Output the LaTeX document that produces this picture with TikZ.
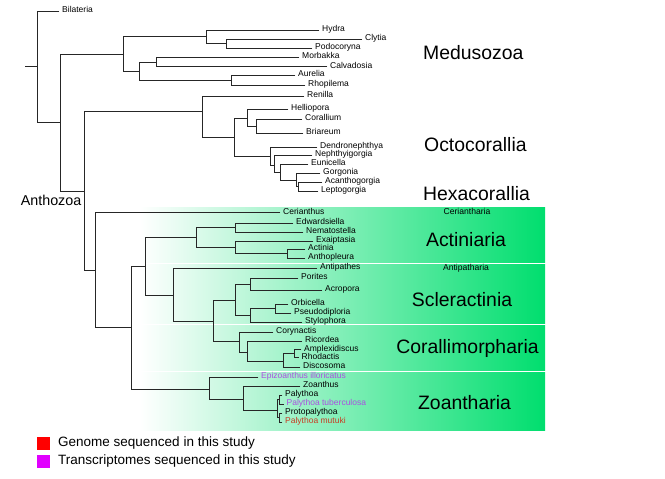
\documentclass[tikz,border=0pt]{standalone}
\usepackage{fontspec}
\setmainfont{Liberation Sans}
\definecolor{hexgreen}{RGB}{0,222,110}
\definecolor{purplelab}{RGB}{170,80,225}
\definecolor{mutred}{RGB}{200,60,35}
\definecolor{legred}{RGB}{255,0,0}
\definecolor{legmag}{RGB}{225,0,255}
\begin{document}
\begin{tikzpicture}[x=1pt,y=-1pt,
  br/.style={line width=0.9pt, draw=black!85, line cap=rect},
  leaf/.style={anchor=west, inner xsep=3pt, inner ysep=0pt, text height=5.6pt, text depth=2pt, font=\fontsize{8.5}{10}\selectfont},
  big/.style={font=\fontsize{19.4}{22}\selectfont, inner sep=0pt},
  small/.style={font=\fontsize{8.6}{10}\selectfont, inner sep=0pt},
  band/.style={left color=white, right color=hexgreen, draw=none},
  legtext/.style={anchor=west, inner sep=0pt, font=\fontsize{13.5}{16}\selectfont}
  ]
\useasboundingbox (0,0) rectangle (665,479);
% green bands
\shade[band] (140,207) rectangle (545,216);
\shade[band] (140,217.5) rectangle (545,262.5);
\shade[band] (140,264) rectangle (545,272);
\shade[band] (140,273.5) rectangle (545,323.5);
\shade[band] (140,325) rectangle (545,370.5);
\shade[band] (140,372) rectangle (545,430);
% internal nodes
\coordinate (stub) at (25,66.7);
\coordinate (R) at (37,66.7);
\coordinate (C) at (60,122);
\coordinate (M) at (123,54);
\coordinate (H1) at (206,36.5);
\coordinate (HC) at (226,43.5);
\coordinate (H2) at (139,71);
\coordinate (MC) at (156,62);
\coordinate (AR) at (231,80);
\coordinate (A) at (84,191);
\coordinate (O) at (202,111);
\coordinate (O2) at (234,137);
\coordinate (HG) at (247,118);
\coordinate (CB) at (256,126);
\coordinate (DG) at (270,156);
\coordinate (D2) at (274,165);
\coordinate (D3) at (280,172);
\coordinate (D4) at (296,180);
\coordinate (D5) at (298,186.5);
\coordinate (X) at (95,270);
\coordinate (X2) at (131,327);
\coordinate (X3) at (145,266);
\coordinate (Act) at (196,237.5);
\coordinate (EN) at (235,227.5);
\coordinate (EA) at (235,247);
\coordinate (AA) at (287,253.5);
\coordinate (X4) at (173,295);
\coordinate (X5) at (213,321);
\coordinate (Scl) at (235,300);
\coordinate (PA) at (250,284);
\coordinate (OPS) at (250,315.5);
\coordinate (OP) at (275,308.5);
\coordinate (Cor) at (239,341.5);
\coordinate (CR) at (247,352);
\coordinate (ARD) at (283,361);
\coordinate (AmR) at (294,353.5);
\coordinate (Zo) at (209,389);
\coordinate (ZP) at (243,399);
\coordinate (Pal) at (277.5,410);
\coordinate (P1) at (279.5,399.5);
\coordinate (P2) at (279.5,417.5);
% leaves
\node[leaf] (bil) at (59,11) {Bilateria};
\node[leaf] (hydra) at (319,30) {Hydra};
\node[leaf] (clytia) at (362,39) {Clytia};
\node[leaf] (podo) at (312,48) {Podocoryna};
\node[leaf] (morb) at (299,57) {Morbakka};
\node[leaf] (calv) at (327,66.5) {Calvadosia};
\node[leaf] (aur) at (295,75) {Aurelia};
\node[leaf] (rhop) at (305,85) {Rhopilema};
\node[leaf] (ren) at (304,96) {Renilla};
\node[leaf] (hel) at (288,109) {Helliopora};
\node[leaf] (cor) at (302,119) {Corallium};
\node[leaf] (bri) at (303,133) {Briareum};
\node[leaf] (den) at (317,147) {Dendronephthya};
\node[leaf] (nep) at (312,155) {Nephthyigorgia};
\node[leaf] (eun) at (308,164) {Eunicella};
\node[leaf] (gor) at (320,173) {Gorgonia};
\node[leaf] (aca) at (322,182) {Acanthogorgia};
\node[leaf] (lep) at (318,191) {Leptogorgia};
\node[leaf] (cer) at (280,212.5) {Cerianthus};
\node[leaf] (edw) at (293,223) {Edwardsiella};
\node[leaf] (nem) at (303,232) {Nematostella};
\node[leaf] (exa) at (313,241) {Exaiptasia};
\node[leaf] (acti) at (305,249) {Actinia};
\node[leaf] (antho) at (305,258) {Anthopleura};
\node[leaf] (antip) at (317,268) {Antipathes};
\node[leaf] (por) at (298,278) {Porites};
\node[leaf] (acr) at (322,290) {Acropora};
\node[leaf] (orb) at (288,304) {Orbicella};
\node[leaf] (pse) at (291,313) {Pseudodiploria};
\node[leaf] (sty) at (302,322) {Stylophora};
\node[leaf] (cory) at (273,332) {Corynactis};
\node[leaf] (ric) at (302,341) {Ricordea};
\node[leaf] (amp) at (301,349.5) {Amplexidiscus};
\node[leaf] (rho) at (298.5,357.5) {Rhodactis};
\node[leaf] (dis) at (300,367) {Discosoma};
\node[leaf, text=purplelab] (epi) at (258,377) {Epizoanthus illoricatus};
\node[leaf] (zoa) at (300,386) {Zoanthus};
\node[leaf] (paly) at (282,395) {Palythoa};
\node[leaf, text=purplelab] (tub) at (283.5,404) {Palythoa tuberculosa};
\node[leaf] (proto) at (282,413) {Protopalythoa};
\node[leaf, text=mutred] (mut) at (282,422) {Palythoa mutuki};
% branches
\draw[br] (stub) -- (R);
\draw[br] (R) |- (bil.west); \draw[br] (R) |- (C);
\draw[br] (C) |- (M); \draw[br] (C) |- (A);
\draw[br] (M) |- (H1); \draw[br] (M) |- (H2);
\draw[br] (H1) |- (hydra.west); \draw[br] (H1) |- (HC);
\draw[br] (HC) |- (clytia.west); \draw[br] (HC) |- (podo.west);
\draw[br] (H2) |- (MC); \draw[br] (H2) |- (AR);
\draw[br] (MC) |- (morb.west); \draw[br] (MC) |- (calv.west);
\draw[br] (AR) |- (aur.west); \draw[br] (AR) |- (rhop.west);
\draw[br] (A) |- (O); \draw[br] (A) |- (X);
\draw[br] (O) |- (ren.west); \draw[br] (O) |- (O2);
\draw[br] (O2) |- (HG); \draw[br] (O2) |- (DG);
\draw[br] (HG) |- (hel.west); \draw[br] (HG) |- (CB);
\draw[br] (CB) |- (cor.west); \draw[br] (CB) |- (bri.west);
\draw[br] (DG) |- (den.west); \draw[br] (DG) |- (D2);
\draw[br] (D2) |- (nep.west); \draw[br] (D2) |- (D3);
\draw[br] (D3) |- (eun.west); \draw[br] (D3) |- (D4);
\draw[br] (D4) |- (gor.west); \draw[br] (D4) |- (D5);
\draw[br] (D5) |- (aca.west); \draw[br] (D5) |- (lep.west);
\draw[br] (X) |- (cer.west); \draw[br] (X) |- (X2);
\draw[br] (X2) |- (X3); \draw[br] (X2) |- (Zo);
\draw[br] (X3) |- (Act); \draw[br] (X3) |- (X4);
\draw[br] (Act) |- (EN); \draw[br] (Act) |- (EA);
\draw[br] (EN) |- (edw.west); \draw[br] (EN) |- (nem.west);
\draw[br] (EA) |- (exa.west); \draw[br] (EA) |- (AA);
\draw[br] (AA) |- (acti.west); \draw[br] (AA) |- (antho.west);
\draw[br] (X4) |- (antip.west); \draw[br] (X4) |- (X5);
\draw[br] (X5) |- (Scl); \draw[br] (X5) |- (Cor);
\draw[br] (Scl) |- (PA); \draw[br] (Scl) |- (OPS);
\draw[br] (PA) |- (por.west); \draw[br] (PA) |- (acr.west);
\draw[br] (OPS) |- (OP); \draw[br] (OPS) |- (sty.west);
\draw[br] (OP) |- (orb.west); \draw[br] (OP) |- (pse.west);
\draw[br] (Cor) |- (cory.west); \draw[br] (Cor) |- (CR);
\draw[br] (CR) |- (ric.west); \draw[br] (CR) |- (ARD);
\draw[br] (ARD) |- (AmR); \draw[br] (ARD) |- (dis.west);
\draw[br] (AmR) |- (amp.west); \draw[br] (AmR) |- (rho.west);
\draw[br] (Zo) |- (epi.west); \draw[br] (Zo) |- (ZP);
\draw[br] (ZP) |- (zoa.west); \draw[br] (ZP) |- (Pal);
\draw[br] (Pal) |- (P1); \draw[br] (Pal) |- (P2);
\draw[br] (P1) |- (paly.west); \draw[br] (P1) |- (tub.west);
\draw[br] (P2) |- (proto.west); \draw[br] (P2) |- (mut.west);
% clade labels
\node[anchor=east, inner sep=0pt, font=\fontsize{14.3}{16}\selectfont] (anthozoa) at (81.5,200) {Anthozoa};
\node[big, anchor=west] (medu) at (423,53) {Medusozoa};
\node[big, anchor=west] (octo) at (424,145) {Octocorallia};
\node[big, anchor=west] (hexa) at (423,194) {Hexacorallia};
\node[small] (ceria) at (467,211.5) {Ceriantharia};
\node[big] (actin) at (466,240) {Actiniaria};
\node[small] (antipa) at (466,268) {Antipatharia};
\node[big] (scler) at (462,300) {Scleractinia};
\node[big] (coral) at (467.5,348) {Corallimorpharia};
\node[big] (zoan) at (464.5,403) {Zoantharia};
% legend
\node[draw=none, fill=legred, minimum size=13pt, inner sep=0pt] (sqred) at (43.5,443.5) {};
\node[draw=none, fill=legmag, minimum size=13pt, inner sep=0pt] (sqmag) at (43.5,461) {};
\node[legtext] (legg) at (58,443.5) {Genome sequenced in this study};
\node[legtext] (legt) at (58,461.5) {Transcriptomes sequenced in this study};
\end{tikzpicture}
\end{document}
